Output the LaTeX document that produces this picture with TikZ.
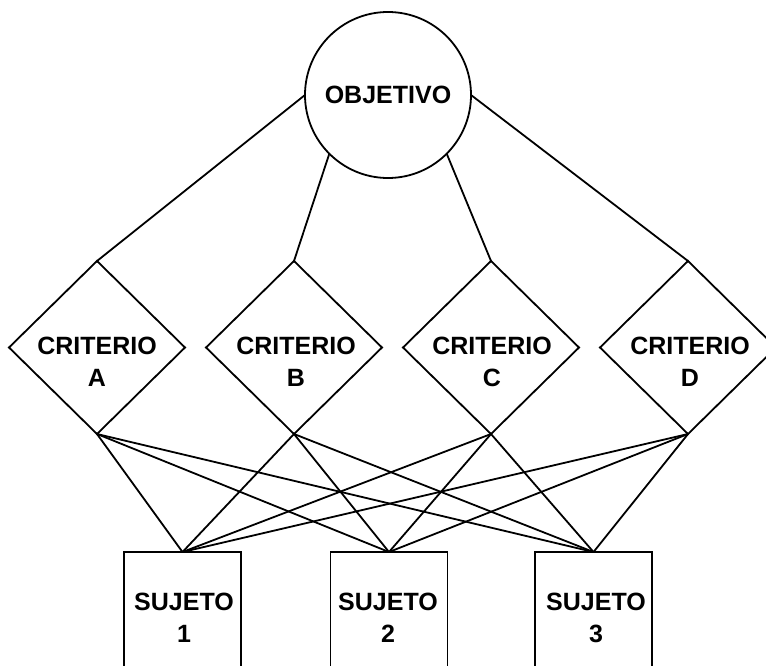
\documentclass[tikz,border=0pt]{standalone}
\usepackage{fontspec}
\setmainfont{Liberation Sans}
\usetikzlibrary{shapes.geometric}
\begin{document}
\begin{tikzpicture}[x=1pt,y=-1pt,
  ln/.style={line width=1.8pt},
  crit/.style={diamond, draw, ln, minimum width=176pt, minimum height=173pt, inner sep=0pt, outer sep=0pt},
  subj/.style={rectangle, draw, ln, minimum width=117pt, minimum height=140pt, anchor=north, inner sep=0pt, outer sep=0pt},
  lbl/.style={font=\fontsize{25}{32.5}\selectfont\bfseries, align=center, inner sep=0pt},
  objc/.style={circle, draw, ln, minimum size=166pt, inner sep=0pt, outer sep=0pt, font=\fontsize{25}{30}\selectfont\bfseries}]
\useasboundingbox (0,0) rectangle (766,666);
% objective
\node[objc] (obj) at (388,95) {OBJETIVO};
% criteria
\node[crit] (A) at (97,347.5) {};
\node[crit] (B) at (294,347.5) {};
\node[crit] (C) at (491,347.5) {};
\node[crit] (D) at (688,347.5) {};
\node[lbl] (tA) at (97,362) {CRITERIO\\A};
\node[lbl] (tB) at (296,362) {CRITERIO\\B};
\node[lbl] (tC) at (492,362) {CRITERIO\\C};
\node[lbl] (tD) at (690,362) {CRITERIO\\D};
% subjects
\node[subj] (S1) at (182.5,552) {};
\node[subj] (S2) at (389,552) {};
\node[subj] (S3) at (593.5,552) {};
\node[lbl] (t1) at (184,618) {SUJETO\\1};
\node[lbl] (t2) at (388,618) {SUJETO\\2};
\node[lbl] (t3) at (596,618) {SUJETO\\3};
% objective to criteria
\draw[ln] (obj.west) -- (A.north);
\draw[ln] (obj.south west) -- (B.north);
\draw[ln] (obj.south east) -- (C.north);
\draw[ln] (obj.east) -- (D.north);
% criteria to subjects
\foreach \c in {A,B,C,D}{
  \foreach \s in {S1,S2,S3}{
    \draw[ln] (\c.south) -- (\s.north);
  }
}
\end{tikzpicture}
\end{document}
